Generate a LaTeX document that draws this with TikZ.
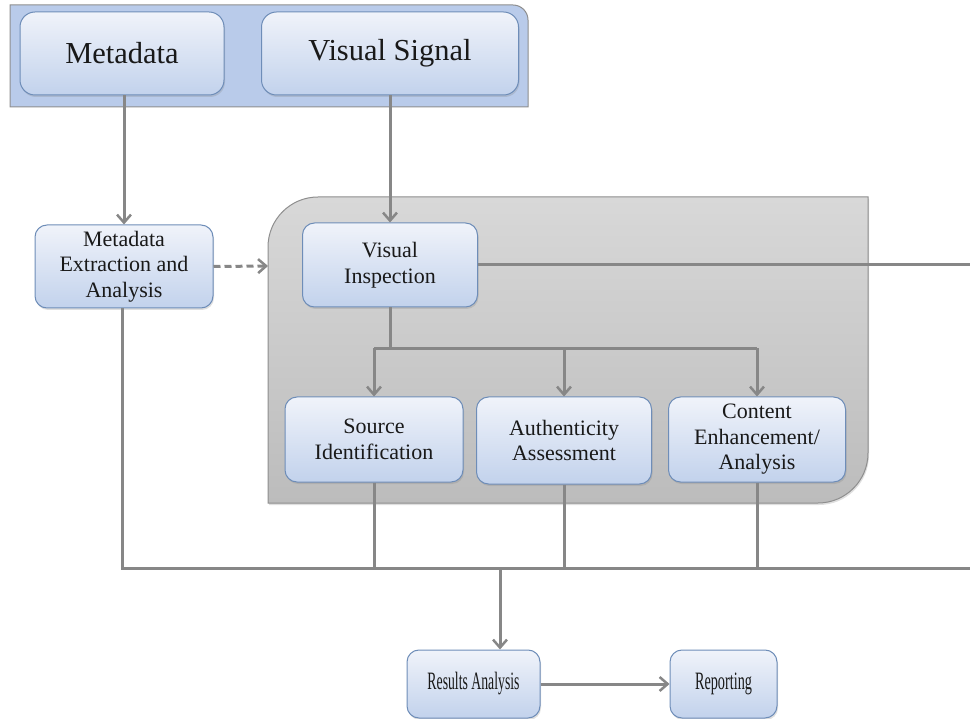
\documentclass[tikz,border=0pt]{standalone}
\usepackage{fontspec}
\setmainfont{Liberation Serif}
\usetikzlibrary{arrows.meta,shadows}
\definecolor{lineg}{HTML}{878787}
\definecolor{boxedge}{HTML}{6E8DB8}
\definecolor{boxtop}{HTML}{F0F3FA}
\definecolor{boxbot}{HTML}{C2D2EC}
\definecolor{bluepanel}{HTML}{B9CBEA}
\definecolor{paneledge}{HTML}{8E8E8E}
\definecolor{graytop}{HTML}{D8D8D8}
\definecolor{graybot}{HTML}{BCBCBC}
\begin{document}
\begin{tikzpicture}[x=1pt,y=-1pt,
  box/.style={draw=boxedge, line width=1pt, rounded corners=12pt,
    top color=boxtop, bottom color=boxbot, align=center, inner sep=2pt,
    text=black!90, font=\fontsize{22}{25.5}\selectfont,
    drop shadow={opacity=0.25, shadow xshift=1pt, shadow yshift=-2pt}},
  bigbox/.style={box, rounded corners=15pt, font=\fontsize{30.5}{34}\selectfont},
  narrowbox/.style={box, font=\fontsize{25}{28}\selectfont},
  conn/.style={draw=lineg, line width=3pt},
  arr/.style={conn, -{Straight Barb[length=8pt,width=14pt,line width=2.5pt]}}]

\useasboundingbox (0,0) rectangle (970,719);

% input panel (blue) with rounded upper-right corner
\draw[draw=paneledge, fill=bluepanel, line width=1pt]
  (10,107) -- (10,5) -- (513,5) arc[start angle=270,end angle=360,radius=15]
  -- (528,107) -- cycle;

% processing panel (gray) with rounded upper-left and lower-right corners
\draw[draw=paneledge, top color=graytop, bottom color=graybot, line width=1pt,
      drop shadow={opacity=0.25, shadow xshift=1pt, shadow yshift=-2pt}]
  (268,503) -- (268,247) arc[start angle=180,end angle=270,radius=50]
  -- (868,197) -- (868,453) arc[start angle=0,end angle=90,radius=50] -- cycle;

% nodes
\node[bigbox, minimum width=204pt, minimum height=83pt] (meta) at (122,53.5) {Metadata};
\node[bigbox, minimum width=257pt, minimum height=83pt] (vsig) at (390,53.5) {Visual Signal};

\node[box, minimum width=178pt, minimum height=83pt] (mext) at (124,266.5) {Metadata\\Extraction and\\Analysis};
\node[box, minimum width=175pt, minimum height=84pt] (vins) at (390,265) {Visual\\Inspection};

\node[box, minimum width=178pt, minimum height=85pt] (src) at (374,439.5) {Source\\Identification};
\node[box, minimum width=175pt, minimum height=87pt] (auth) at (564,440.5) {Authenticity\\Assessment};
\node[box, minimum width=177pt, minimum height=85pt] (cont) at (757,439.5) {Content\\Enhancement/\\Analysis};

\node[narrowbox, minimum width=133pt, minimum height=68pt] (res) at (473.5,684) {\scalebox{0.55}[1]{Results Analysis}};
\node[narrowbox, minimum width=107pt, minimum height=68pt] (rep) at (723.5,684) {\scalebox{0.57}[1]{Reporting}};

% connector end points
\coordinate (panelin) at (268,266);
\coordinate (vout) at (970,265);
\coordinate (busL) at (122,568);
\coordinate (busR) at (970,568);
\coordinate (resin) at (500,568);

% inputs
\draw[arr] (meta.south -| mext.north) -- (mext.north);
\draw[arr] (vsig.south) -- (vins.north);
\draw[conn, dashed, dash pattern=on 7pt off 4pt, -{Straight Barb[length=8pt,width=14pt,line width=2.5pt]}]
  (mext.east) -- (panelin);

% visual inspection branches
\draw[conn] (vins.east) -- (vout);
\draw[conn] (vins.south) -- ++(0,41) coordinate (split);
\draw[conn] (src.north |- split) -- (cont.north |- split);
\draw[arr] (src.north |- split) -- (src.north);
\draw[arr] (auth.north |- split) -- (auth.north);
\draw[arr] (cont.north |- split) -- (cont.north);

% collecting bus
\draw[conn] (mext.south -| busL) -- (busL) -- (busR);
\draw[conn] (src.south) -- (src.south |- busL);
\draw[conn] (auth.south) -- (auth.south |- busL);
\draw[conn] (cont.south) -- (cont.south |- busL);

% results
\draw[arr] (resin) -- (resin |- res.north);
\draw[arr] (res.east) -- (rep.west);
\end{tikzpicture}
\end{document}
